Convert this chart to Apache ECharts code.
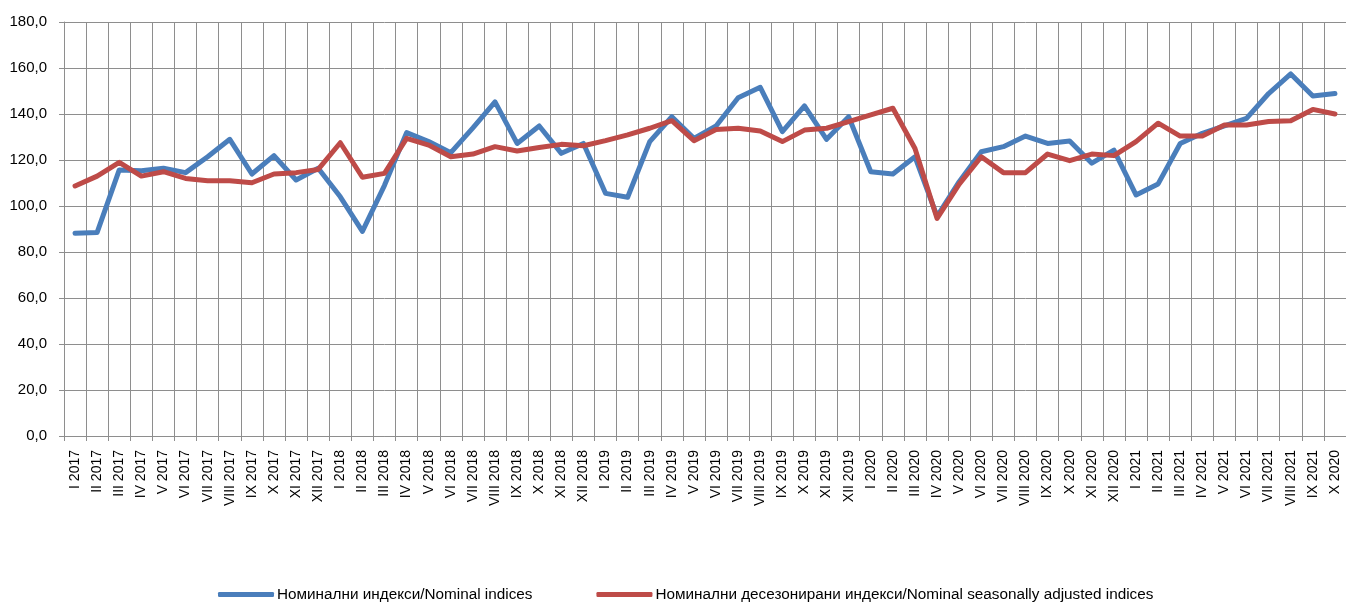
<!DOCTYPE html>
<html>
<head>
<meta charset="utf-8">
<script src="https://cdn.jsdelivr.net/npm/echarts@6/dist/echarts.min.js"></script>
<style>
html,body{margin:0;padding:0;background:#fff;}
#chart{width:1346px;height:603px;}
</style>
</head>
<body>
<div id="chart"></div>
<script>
var categories = [
  "I 2017","II 2017","III 2017","IV 2017","V 2017","VI 2017","VII 2017","VIII 2017","IX 2017","X 2017","XI 2017","XII 2017",
  "I 2018","II 2018","III 2018","IV 2018","V 2018","VI 2018","VII 2018","VIII 2018","IX 2018","X 2018","XI 2018","XII 2018",
  "I 2019","II 2019","III 2019","IV 2019","V 2019","VI 2019","VII 2019","VIII 2019","IX 2019","X 2019","XI 2019","XII 2019",
  "I 2020","II 2020","III 2020","IV 2020","V 2020","VI 2020","VII 2020","VIII 2020","IX 2020","X 2020","XI 2020","XII 2020",
  "I 2021","II 2021","III 2021","IV 2021","V 2021","VI 2021","VII 2021","VIII 2021","IX 2021","X 2020"
];
var nominal = [
  88.1, 88.5, 115.7, 115.3, 116.4, 114.5, 121.4, 129.0, 113.9, 121.9, 111.3, 116.4,
  104.0, 89.0, 109.0, 131.9, 128.0, 123.2, 134.0, 145.3, 127.2, 134.8, 122.9, 127.2,
  105.5, 103.8, 128.0, 138.8, 129.4, 134.8, 147.1, 151.6, 132.3, 143.5, 129.0, 138.8,
  114.9, 113.9, 121.4, 95.5, 110.6, 123.6, 125.8, 130.4, 127.2, 128.3, 118.6, 124.3,
  104.8, 109.6, 127.2, 131.6, 134.8, 138.1, 148.9, 157.4, 147.8, 148.9
];
var seasonal = [
  108.7, 113.0, 119.0, 113.0, 114.9, 112.0, 111.0, 111.0, 110.1, 113.9, 114.5, 115.9,
  127.5, 112.5, 114.2, 129.4, 126.5, 121.4, 122.6, 125.8, 123.9, 125.4, 126.8, 126.2,
  128.4, 130.9, 133.8, 137.1, 128.4, 133.3, 133.8, 132.6, 128.0, 133.0, 133.8, 136.7,
  139.6, 142.5, 125.0, 94.6, 109.5, 121.4, 114.5, 114.5, 122.6, 119.7, 122.6, 121.9,
  128.0, 136.0, 130.4, 130.4, 135.2, 135.2, 136.7, 137.1, 142.0, 140.0
];
var seriesNames = [
  "Номинални индекси/Nominal indices",
  "Номинални десезонирани индекси/Nominal seasonally adjusted indices"
];
var yTicks = { min: 0, max: 180, interval: 20 };

var FONT = "'Liberation Sans', Arial, sans-serif";
var gridColor = "#8e8e8e";
var chart = echarts.init(document.getElementById('chart'), null, { renderer: 'canvas' });
chart.setOption({
  animation: false,
  backgroundColor: '#fff',
  textStyle: { fontFamily: FONT },
  grid: { left: 64, right: 0, top: 22, bottom: 167, containLabel: false },
  legend: {
    left: 213, top: 582,
    icon: 'roundRect', itemWidth: 56, itemHeight: 5, itemGap: 64,
    textStyle: { fontFamily: FONT, fontSize: 15.3, color: '#000', padding: [0, 0, 0, -2] },
    data: seriesNames
  },
  xAxis: {
    type: 'category',
    data: categories,
    boundaryGap: true,
    axisLine: { show: true, lineStyle: { color: gridColor, width: 1 } },
    axisTick: { show: true, length: 5, interval: 0, lineStyle: { color: gridColor } },
    splitLine: { show: true, interval: 0, lineStyle: { color: gridColor, width: 1 } },
    axisLabel: { interval: 0, rotate: 90, margin: 14, fontSize: 14, color: '#000', fontFamily: FONT }
  },
  yAxis: {
    type: 'value',
    min: yTicks.min, max: yTicks.max, interval: yTicks.interval,
    axisLine: { show: true, lineStyle: { color: gridColor, width: 1 } },
    axisTick: { show: true, length: 5, lineStyle: { color: gridColor } },
    splitLine: { show: true, lineStyle: { color: gridColor, width: 1 } },
    axisLabel: {
      margin: 17, fontSize: 15, color: '#000', fontFamily: FONT,
      formatter: function (v) { return v.toFixed(1).replace('.', ','); }
    }
  },
  series: [
    {
      name: seriesNames[0], type: 'line', data: nominal,
      showSymbol: false, symbol: 'none', color: '#4a7ebb',
      lineStyle: { width: 5, color: '#4a7ebb', join: 'round', cap: 'round' }
    },
    {
      name: seriesNames[1], type: 'line', data: seasonal,
      showSymbol: false, symbol: 'none', color: '#be4b48',
      lineStyle: { width: 5, color: '#be4b48', join: 'round', cap: 'round' }
    }
  ]
});
</script>
</body>
</html>
